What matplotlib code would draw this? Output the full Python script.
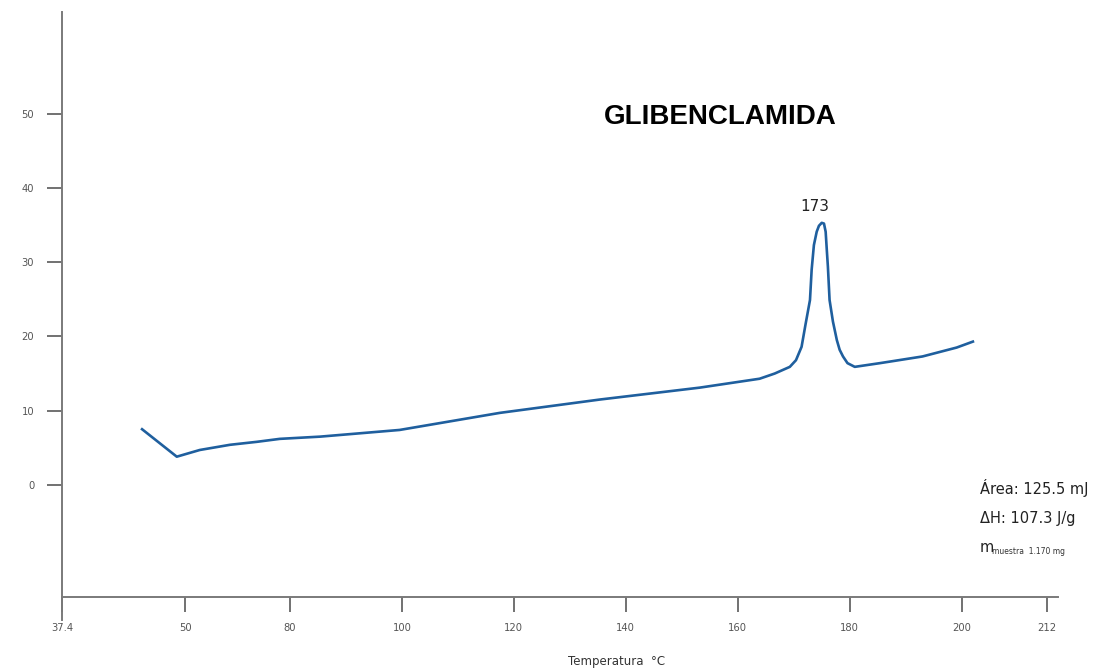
import matplotlib
matplotlib.use("Agg")
import matplotlib.pyplot as plt
import numpy as np

# DSC trace (temperature in axis units, heat flow)
temp = [53.6, 59.8, 63.9, 69.3, 74.1, 78.2, 85.4, 99.6, 117.5, 135.4, 153.2,
        163.9, 166.6, 169.3, 170.4, 171.4, 172.1, 172.9, 173.2, 173.6, 174.1,
        174.5, 175.0, 175.4, 175.7, 175.9, 176.1, 176.4, 177.0, 177.7, 178.2,
        178.8, 179.6, 180.9, 185.4, 187.1, 193.0, 199.1, 202.0]
flow = [7.5, 3.8, 4.7, 5.4, 5.8, 6.2, 6.5, 7.4, 9.7, 11.5, 13.1,
        14.3, 15.0, 15.9, 16.8, 18.6, 21.6, 24.9, 29.0, 32.3, 34.1,
        34.9, 35.3, 35.2, 34.1, 31.7, 29.4, 24.9, 22.0, 19.5, 18.2,
        17.3, 16.4, 15.9, 16.4, 16.6, 17.3, 18.5, 19.3]

xtick_pos = [39.3, 61.3, 80, 100, 120, 140, 160, 180, 200, 215.2]
xtick_lab = ["37.4", "50", "80", "100", "120", "140", "160", "180", "200", "212"]
ytick_pos = [0, 10, 20, 30, 40, 50]
ytick_lab = ["0", "10", "20", "30", "40", "50"]

peak_t, peak_label = 174.0, "173"
area_txt = "Área: 125.5 mJ"
dh_txt = "ΔH: 107.3 J/g"
mass_txt = "muestra  1.170 mg"

narrow = ["Liberation Sans Narrow", "DejaVu Sans"]

fig = plt.figure(figsize=(11.09, 6.70), dpi=100)
ax = fig.add_axes([62 / 1109, 1 - 620 / 670, (1058 - 62) / 1109, (620 - 12) / 670])

ax.plot(temp, flow, color="#1f5f9e", lw=1.9, solid_joinstyle="round")

ax.set_xlim(39.3, 217.2)
ax.set_ylim(-18.2, 63.7)

for s in ["top", "right"]:
    ax.spines[s].set_visible(False)
ax.spines["bottom"].set_position(("data", -15.1))
for s in ["left", "bottom"]:
    ax.spines[s].set_color("#7a7a7a")
    ax.spines[s].set_linewidth(1.4)

ax.set_xticks(xtick_pos)
ax.set_xticklabels(xtick_lab)
ax.set_yticks(ytick_pos)
ax.set_yticklabels(ytick_lab)
ax.tick_params(axis="both", direction="out", length=11, width=1.3,
               color="#666666", labelcolor="#555555", labelsize=8)
ax.tick_params(axis="x", pad=8)
ax.tick_params(axis="y", pad=9)
for lab in ax.get_xticklabels() + ax.get_yticklabels():
    lab.set_family(narrow)
    lab.set_stretch("condensed")

# peak label
ax.text(peak_t - 0.2, max(flow) + 1.2, peak_label, ha="center", va="bottom",
        fontsize=11, family=narrow, color="#222222")

fig.text(720 / 1109, 1 - 117 / 670, "GLIBENCLAMIDA", ha="center", va="center",
         fontsize=20, fontweight="bold", family=["Liberation Sans", "DejaVu Sans"])

fig.text(617 / 1109, 1 - 661 / 670, "Temperatura  °C", ha="center", va="center",
         fontsize=8.5, family=narrow, color="#333333")

fig.text(980 / 1109, 1 - 488 / 670, area_txt, ha="left", va="center",
         fontsize=10.5, family=narrow, color="#222222")
fig.text(980 / 1109, 1 - 518 / 670, dh_txt, ha="left", va="center",
         fontsize=10.5, family=narrow, color="#222222")
fig.text(980 / 1109, 1 - 548 / 670, "m", ha="left", va="center",
         fontsize=10.5, family=narrow, color="#222222")
fig.text(992 / 1109, 1 - 552 / 670, mass_txt, ha="left", va="center",
         fontsize=5.5, family=narrow, color="#333333")

fig.savefig("out.png", dpi=100)
